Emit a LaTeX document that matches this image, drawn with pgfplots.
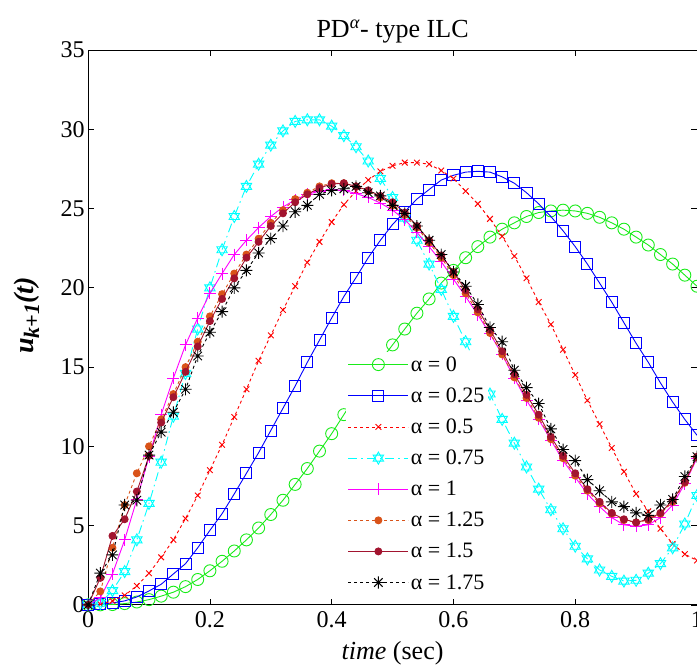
\documentclass[border=0pt]{standalone}
\usepackage{fontspec}
\setmainfont{Liberation Serif}
\usepackage{pgfplots}
\usepackage{pgfplotstable}
\pgfplotsset{compat=1.18}
\definecolor{cgreen}{rgb}{0.1,0.92,0.1}
\definecolor{cblue}{rgb}{0,0,1}
\definecolor{cred}{rgb}{1,0,0}
\definecolor{ccyan}{rgb}{0,1,1}
\definecolor{cmag}{rgb}{1,0,1}
\definecolor{corange}{rgb}{0.85,0.325,0.098}
\definecolor{cdred}{rgb}{0.635,0.078,0.184}
\pgfdeclareplotmark{hexagram}{%
  \pgfpathmoveto{\pgfpointpolar{90}{\pgfplotmarksize}}%
  \pgfpathlineto{\pgfpointpolar{210}{\pgfplotmarksize}}%
  \pgfpathlineto{\pgfpointpolar{330}{\pgfplotmarksize}}%
  \pgfpathclose
  \pgfpathmoveto{\pgfpointpolar{270}{\pgfplotmarksize}}%
  \pgfpathlineto{\pgfpointpolar{30}{\pgfplotmarksize}}%
  \pgfpathlineto{\pgfpointpolar{150}{\pgfplotmarksize}}%
  \pgfpathclose
  \pgfusepathqstroke}
\pgfdeclareplotmark{aster}{%
  \pgfpathmoveto{\pgfpointpolar{0}{\pgfplotmarksize}}\pgfpathlineto{\pgfpointpolar{180}{\pgfplotmarksize}}%
  \pgfpathmoveto{\pgfpointpolar{45}{\pgfplotmarksize}}\pgfpathlineto{\pgfpointpolar{225}{\pgfplotmarksize}}%
  \pgfpathmoveto{\pgfpointpolar{90}{\pgfplotmarksize}}\pgfpathlineto{\pgfpointpolar{270}{\pgfplotmarksize}}%
  \pgfpathmoveto{\pgfpointpolar{135}{\pgfplotmarksize}}\pgfpathlineto{\pgfpointpolar{315}{\pgfplotmarksize}}%
  \pgfusepathqstroke}
\pgfplotstableread{
x    g     b     r     c     m     o     d     k
0.00 0     0     0     0     0     0     0     0
0.02 0     0.05  0.05  0.1   0.45  0.85  1.7   2.0
0.04 0.02  0.12  0.25  0.9   1.95  3.6   4.35  3.15
0.06 0.08  0.25  0.6   2.1   4.1   6.3   5.4   6.3
0.08 0.18  0.5   1.2   4.1   6.65  8.3   7.15  6.6
0.10 0.33  0.88  2.0   6.4   9.35  10.0  9.4   9.45
0.12 0.55  1.3   3.0   9.0   12.0  11.7  11.5  10.9
0.14 0.8   1.95  4.1   11.9  14.3  13.3  13.1  12.15
0.16 1.15  2.6   5.45  14.6  16.4  15.0  14.7  13.6
0.18 1.6   3.6   6.9   17.4  18.1  16.6  16.3  15.7
0.20 2.15  4.7   8.5   20.0  19.65 18.2  17.9  17.2
0.22 2.75  5.75  10.1  22.4  20.9  19.6  19.3  18.5
0.24 3.4   7.0   11.85 24.5  22.1  20.9  20.6  20.0
0.26 4.1   8.3   13.6  26.4  23.0  22.1  21.9  21.1
0.28 4.85  9.6   15.4  27.8  23.8  23.1  22.9  22.2
0.30 5.7   11.0  17.0  29.0  24.5  24.1  23.9  23.1
0.32 6.6   12.4  18.6  29.9  25.1  24.9  24.7  23.9
0.34 7.6   13.8  20.1  30.5  25.55 25.6  25.4  24.8
0.36 8.6   15.3  21.6  30.6  25.9  26.0  25.9  25.2
0.38 9.7   16.7  22.9  30.6  26.1  26.4  26.3  25.9
0.40 10.8  18.1  24.15 30.2  26.2  26.6  26.55 26.15
0.42 12.0  19.45 25.25 29.6  26.15 26.6  26.6  26.25
0.44 13.2  20.65 26.1  28.9  25.95 26.4  26.4  26.4
0.46 14.3  21.9  26.8  28.0  25.7  26.1  26.15 26.0
0.48 15.4  23.0  27.35 26.9  25.35 25.7  25.8  25.8
0.50 16.4  24.0  27.7  25.7  24.9  25.2  25.4  25.2
0.52 17.4  24.8  27.9  24.4  24.3  24.6  24.75 24.7
0.54 18.4  25.6  27.9  23.0  23.5  23.8  23.9  23.9
0.56 19.3  26.2  27.8  21.5  22.6  22.85 23.0  23.0
0.58 20.3  26.8  27.4  19.9  21.65 21.9  22.05 22.1
0.60 21.1  27.1  26.9  18.2  20.55 20.8  21.0  21.0
0.62 21.9  27.3  26.1  16.6  19.45 19.65 19.85 20.1
0.64 22.6  27.35 25.3  14.9  18.3  18.45 18.65 18.95
0.66 23.2  27.3  24.35 13.3  17.1  17.15 17.35 17.5
0.68 23.7  27.0  23.25 11.7  15.8  15.8  16.0  16.6
0.70 24.1  26.6  22.0  10.2  14.3  14.35 14.55 14.8
0.72 24.5  26.0  20.6  8.7   12.9  13.05 13.25 13.7
0.74 24.75 25.3  19.1  7.3   11.7  11.8  12.0  12.7
0.76 24.85 24.5  17.7  6.0   10.4  10.45 10.6  11.1
0.78 24.9  23.6  16.1  4.8   9.1   9.25  9.4   9.8
0.80 24.85 22.6  14.5  3.7   8.05  8.15  8.3   9.1
0.82 24.7  21.5  12.9  2.9   7.0   7.2   7.3   7.9
0.84 24.45 20.3  11.4  2.2   6.2   6.4   6.5   7.2
0.86 24.1  19.1  9.9   1.8   5.5   5.75  5.8   6.5
0.88 23.7  17.8  8.4   1.5   5.05  5.35  5.4   6.2
0.90 23.2  16.5  7.0   1.55  4.95  5.2   5.2   5.8
0.92 22.7  15.3  5.9   2.0   5.05  5.35  5.4   5.65
0.94 22.1  14.0  4.8   2.6   5.5   5.75  5.8   6.3
0.96 21.5  12.8  3.85  3.6   6.3   6.5   6.6   6.65
0.98 20.8  11.7  3.2   5.1   7.65  7.7   7.75  8.1
1.00 20.1  10.7  2.8   6.9   9.25  9.3   9.35  9.35
}\datatable
\begin{document}
\begin{tikzpicture}
\begin{axis}[
  scale only axis, width=608pt, height=554pt,
  xmin=0, xmax=1, ymin=0, ymax=35,
  xtick={0,0.2,0.4,0.6,0.8,1},
  ytick={0,5,10,15,20,25,30,35},
  tick align=inside, major tick length=6pt,
  tick style={black, line width=0.7pt},
  axis line style={line width=0.9pt},
  /pgf/number format/assume math mode=true,
  ticklabel style={font=\fontsize{24}{26}\selectfont},
  xticklabel style={yshift=-3pt},
  yticklabel style={xshift=0pt},
  title={PD\textsuperscript{\textit{α}}- type ILC},
  title style={font=\fontsize{26}{28}\selectfont, yshift=-3pt},
  xlabel={\textit{time} (sec)},
  xlabel style={font=\fontsize{26}{28}\selectfont, yshift=-7pt},
  ylabel={\bfseries\itshape u{\fontsize{22}{24}\selectfont\raisebox{-0.25em}{k+1}}(t)},
  ylabel style={font=\fontsize{28}{30}\selectfont, yshift=14pt, xshift=12pt},
  clip mode=individual,
  legend cell align=left,
  legend style={at={(0.423,0.457)}, anchor=north west, draw=none, fill=white,
    font=\fontsize{22}{24}\selectfont, row sep=11pt, inner xsep=2pt, inner ysep=3pt},
  legend image code/.code={\draw[mark repeat=2,mark phase=2,#1] plot coordinates {(0pt,0pt) (30pt,0pt) (60pt,0pt)};},
  every axis plot/.append style={line width=0.9pt},
]
\addplot[cgreen, mark=o, mark size=6pt] table[x=x,y=g] {\datatable};
\addlegendentry{α = 0}
\addplot[cblue, mark=square, mark size=5.5pt] table[x=x,y=b] {\datatable};
\addlegendentry{α = 0.25}
\addplot[cred, dashed, mark=x, mark size=4pt, mark options={solid}] table[x=x,y=r] {\datatable};
\addlegendentry{α = 0.5}
\addplot[ccyan, dash pattern=on 9pt off 4pt on 1.5pt off 4pt, mark=hexagram, mark size=6pt, mark options={solid}] table[x=x,y=c] {\datatable};
\addlegendentry{α = 0.75}
\addplot[cmag, mark=+, mark size=6pt] table[x=x,y=m] {\datatable};
\addlegendentry{α = 1}
\addplot[corange, dashed, mark=*, mark size=3.5pt, mark options={solid}] table[x=x,y=o] {\datatable};
\addlegendentry{α = 1.25}
\addplot[cdred, mark=*, mark size=3.5pt] table[x=x,y=d] {\datatable};
\addlegendentry{α = 1.5}
\addplot[black, dashed, mark=aster, mark size=6pt, mark options={solid}] table[x=x,y=k] {\datatable};
\addlegendentry{α = 1.75}
\end{axis}
\pgfresetboundingbox
\path[use as bounding box] ([xshift=-88pt,yshift=-61pt]current axis.south west) rectangle ([yshift=50pt]current axis.north east);
\end{tikzpicture}
\end{document}
